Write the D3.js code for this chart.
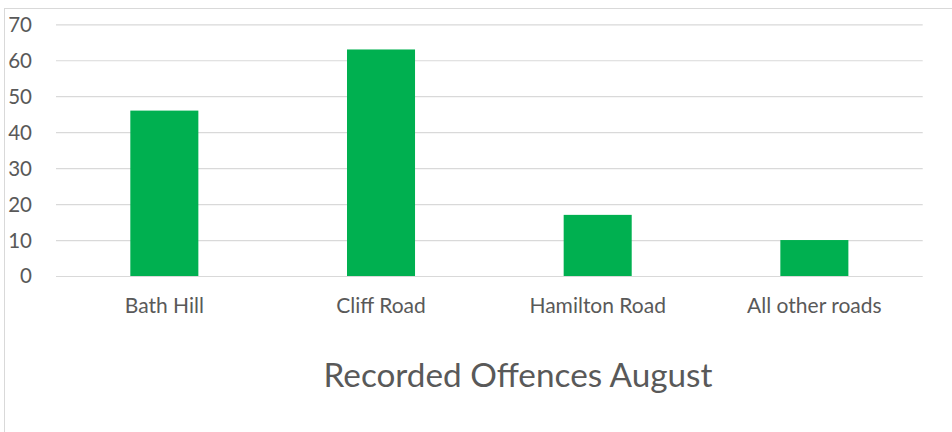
<!DOCTYPE html>
<html>
<head>
<meta charset="utf-8">
<script src="https://cdn.jsdelivr.net/npm/d3@7"></script>
<style>
  html, body { margin: 0; padding: 0; background: #fff; }
  svg { display: block; }
  text { font-family: Lato, "Open Sans", sans-serif; fill: #595959; }
</style>
</head>
<body>
<svg id="chart" width="952" height="432"></svg>
<script>
const categories = ["Bath Hill", "Cliff Road", "Hamilton Road", "All other roads"];
const values = [46, 63, 17, 10];
const yTicks = [0, 10, 20, 30, 40, 50, 60, 70];
const title = "Recorded Offences August";

const svg = d3.select("#chart");
const W = 952, H = 432;

// chart frame (cropped on right/bottom like the reference)
svg.append("rect")
  .attr("x", 4.5).attr("y", 8.5)
  .attr("width", 1100).attr("height", 600)
  .attr("fill", "#fff").attr("stroke", "#d9d9d9").attr("stroke-width", 1);

const plot = { left: 56, right: 922.7, top: 24.3, bottom: 276 };

const x = d3.scaleBand()
  .domain(categories)
  .range([plot.left, plot.right])
  .paddingInner(0.686)
  .paddingOuter(0.343);

const y = d3.scaleLinear()
  .domain([0, 70])
  .range([plot.bottom, plot.top]);

// gridlines
const grid = d3.axisLeft(y).tickValues(yTicks)
  .tickSize(-(plot.right - plot.left)).tickFormat("");
svg.append("g")
  .attr("transform", `translate(${plot.left},0)`)
  .call(grid)
  .call(g => g.select(".domain").remove())
  .call(g => g.selectAll(".tick line").attr("stroke", "#d9d9d9").attr("stroke-width", 1.2));

// y labels
const yAxis = d3.axisLeft(y).tickValues(yTicks).tickSize(0).tickPadding(0);
svg.append("g")
  .attr("transform", `translate(32,0)`)
  .call(yAxis)
  .call(g => g.select(".domain").remove())
  .call(g => g.selectAll(".tick text")
    .attr("x", 0).attr("dy", "0.34em")
    .style("font-size", "20.5px").attr("fill", "#595959"));

// bars
svg.append("g").selectAll("rect")
  .data(values)
  .join("rect")
  .attr("x", (d, i) => x(categories[i]))
  .attr("width", x.bandwidth())
  .attr("y", d => y(d))
  .attr("height", d => y(0) - y(d))
  .attr("fill", "#00b050");

// x labels
const xAxis = d3.axisBottom(x).tickSize(0).tickPadding(0);
svg.append("g")
  .attr("transform", `translate(0,313)`)
  .call(xAxis)
  .call(g => g.select(".domain").remove())
  .call(g => g.selectAll(".tick text")
    .attr("y", 0).attr("dy", 0)
    .style("font-size", "21px").attr("fill", "#595959"));

// title
svg.append("text")
  .attr("x", 518).attr("y", 387)
  .attr("text-anchor", "middle")
  .style("font-size", "33.3px")
  .text(title);
</script>
</body>
</html>
